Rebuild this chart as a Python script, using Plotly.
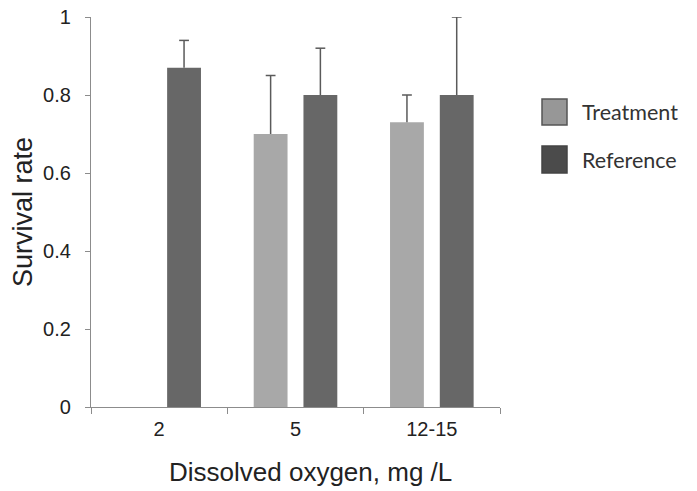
import plotly.graph_objects as go

categories = ["2", "5", "12-15"]
treatment = [None, 0.70, 0.73]
treatment_err = [None, 0.15, 0.07]
reference = [0.87, 0.80, 0.80]
reference_err = [0.07, 0.12, 0.20]
y_ticks = [0, 0.2, 0.4, 0.6, 0.8, 1]
legend_names = ["Treatment", "Reference"]
x_title = "Dissolved oxygen, mg /L"
y_title = "Survival rate"

AX = "#8c8c8c"
T_COL = "#a8a8a8"
R_COL = "#676767"
ERR_COL = "#5a5a5a"
TXT = "#222222"
BARGAP = 0.27
BARGROUPGAP = 0.32

fig = go.Figure()
for vals, col, grp, name in [(treatment, T_COL, "t", legend_names[0]),
                             (reference, R_COL, "r", legend_names[1])]:
    fig.add_trace(go.Bar(
        x=categories, y=vals, name=name, offsetgroup=grp,
        marker=dict(color=col, line=dict(width=0)),
        showlegend=False,
    ))

# upper-only error bars (no cap at the bar top), on a numeric twin of the category axis
offset = (1 - BARGAP) / 4
for s, (vals, errs) in enumerate([(treatment, treatment_err), (reference, reference_err)]):
    shift = -offset if s == 0 else offset
    lx, ly, hx, hy = [], [], [], []
    for i, (v, e) in enumerate(zip(vals, errs)):
        if v is None or e is None:
            continue
        lx += [i + shift, i + shift, None]
        ly += [v, v + e, None]
        hx.append(i + shift)
        hy.append(v + e)
    fig.add_trace(go.Scatter(x=lx, y=ly, mode="lines", xaxis="x2",
                             line=dict(color=ERR_COL, width=1.5),
                             showlegend=False, hoverinfo="skip"))
    fig.add_trace(go.Scatter(x=hx, y=hy, mode="markers", xaxis="x2",
                             marker=dict(symbol="line-ew", size=7,
                                         line=dict(color=ERR_COL, width=1.5)),
                             showlegend=False, hoverinfo="skip"))

# page body has an 8px default margin; plot area target in screen px
OFF = 8
L, W, T, H = 91, 409, 17, 390
def px(xp):
    return (xp - L) / W
def py(yp):
    return (T + H - yp) / H

sw = [("#979797", "#555555", 99, 125), ("#4b4b4b", "#444444", 146, 173)]
for (fill, edge, y0, y1), name in zip(sw, legend_names):
    fig.add_shape(type="rect", xref="paper", yref="paper",
                  x0=px(542), x1=px(567), y0=py(y1), y1=py(y0),
                  fillcolor=fill, line=dict(color=edge, width=1.5))
    fig.add_annotation(xref="paper", yref="paper", x=px(580), y=py((y0 + y1) / 2),
                       text=name, showarrow=False, xanchor="left", yanchor="middle",
                       font=dict(family="Lato", size=21.5, color="#333333"))

# x-axis title (sits a little right of the plot centre in the original)
fig.add_annotation(xref="paper", yref="paper", x=px(310), y=py(472),
                   text=x_title, showarrow=False, xanchor="center", yanchor="middle",
                   font=dict(size=26, color=TXT))

fig.update_layout(
    width=697, height=491,
    margin=dict(l=L - OFF, r=697 - (L - OFF) - W, t=T - OFF, b=491 - (T - OFF) - H),
    paper_bgcolor="white", plot_bgcolor="white",
    barmode="group", bargap=BARGAP, bargroupgap=BARGROUPGAP,
    font=dict(family="Liberation Sans, Arial", color=TXT),
    xaxis=dict(
        range=[-0.5, len(categories) - 0.5],
        showline=True, linecolor=AX, linewidth=1.2,
        ticks="outside", tickson="boundaries", ticklen=6, tickcolor=AX,
        ticklabelstandoff=4,
        tickfont=dict(size=20, color=TXT),
        automargin=False, showgrid=False,
    ),
    xaxis2=dict(overlaying="x", range=[-0.5, len(categories) - 0.5], visible=False),
    yaxis=dict(
        range=[0, 1], tickvals=y_ticks, ticktext=[f"{v:g}" for v in y_ticks],
        showline=True, linecolor=AX, linewidth=1.2,
        ticks="outside", ticklen=5, tickcolor=AX, ticklabelstandoff=10,
        ticklabeloverflow="allow",
        tickfont=dict(size=20, color=TXT),
        title=dict(text=y_title, font=dict(size=27, color=TXT), standoff=4),
        automargin=False, showgrid=False, zeroline=False,
    ),
)
fig.write_html("out.html")
